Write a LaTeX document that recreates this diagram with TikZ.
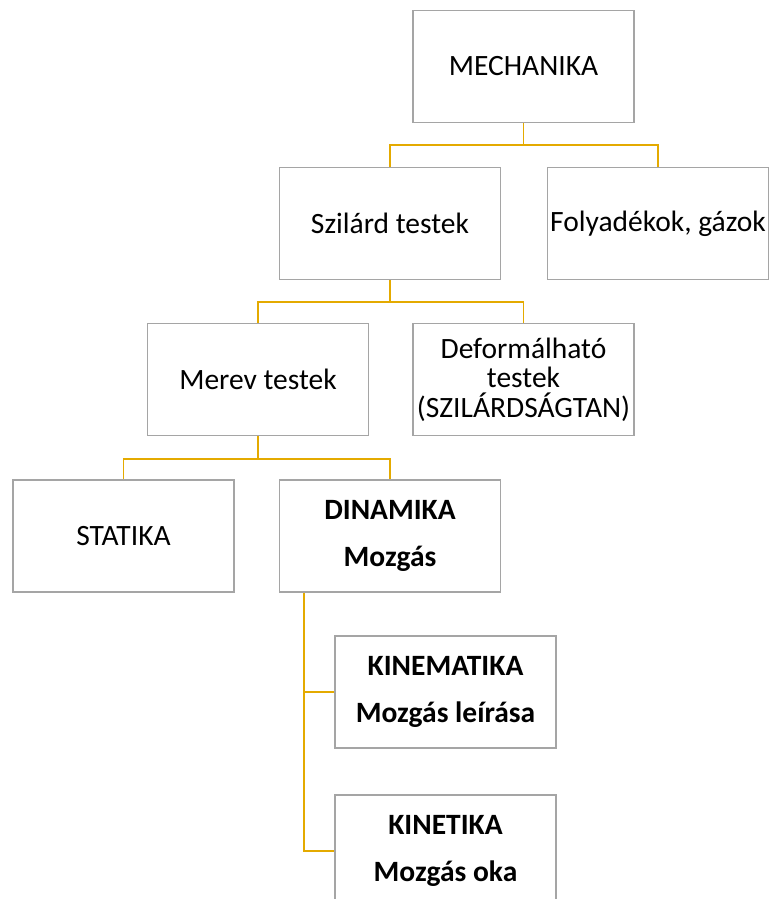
\documentclass[tikz,border=0pt]{standalone}
\usepackage{fontspec}
\setmainfont{Carlito}
\begin{document}
\begin{tikzpicture}[x=1pt,y=-1pt,
  box/.style={draw=boxgray,line width=1.6pt,rectangle,minimum width=221pt,minimum height=112pt,inner sep=0pt,align=center,font=\fontsize{29.5}{29.5}\selectfont,text=black},
  bbox/.style={box,font=\fontsize{29.5}{29.5}\selectfont\bfseries},
  conn/.style={draw=conncol,line width=1.8pt}]
\definecolor{boxgray}{RGB}{165,165,165}
\definecolor{conncol}{RGB}{228,170,0}
\useasboundingbox (0,0) rectangle (774,899);
\node[box] (mech) at (523.5,66.5) {MECHANIKA};
\node[box] (szil) at (390,223.5) {Szilárd testek};
\node[box] (foly) at (658,223.5) {Folyadékok, gázok};
\node[box] (merev) at (258,379.5) {Merev testek};
\node[box] (defo) at (523.5,379.5) {Deformálható\\testek\\(SZILÁRDSÁGTAN)};
\node[box] (stat) at (123.5,536) {STATIKA};
\node[bbox] (dina) at (390,536) {DINAMIKA\\[17pt]Mozgás};
\node[bbox] (kinem) at (445.5,692) {KINEMATIKA\\[17pt]Mozgás leírása};
\node[bbox] (kinet) at (445.5,851) {KINETIKA\\[17pt]Mozgás oka};
\draw[conn] (mech.south) -- (mech.south |- 0,145) -| (szil.north);
\draw[conn] (mech.south |- 0,145) -| (foly.north);
\draw[conn] (szil.south) -- (szil.south |- 0,302) -| (merev.north);
\draw[conn] (szil.south |- 0,302) -| (defo.north);
\draw[conn] (merev.south) -- (merev.south |- 0,459) -| (stat.north);
\draw[conn] (merev.south |- 0,459) -| (dina.north);
\coordinate (dtop) at (304,593);
\draw[conn] (dtop) |- (kinem.west);
\draw[conn] (dtop) |- (kinet.west);
\end{tikzpicture}
\end{document}
